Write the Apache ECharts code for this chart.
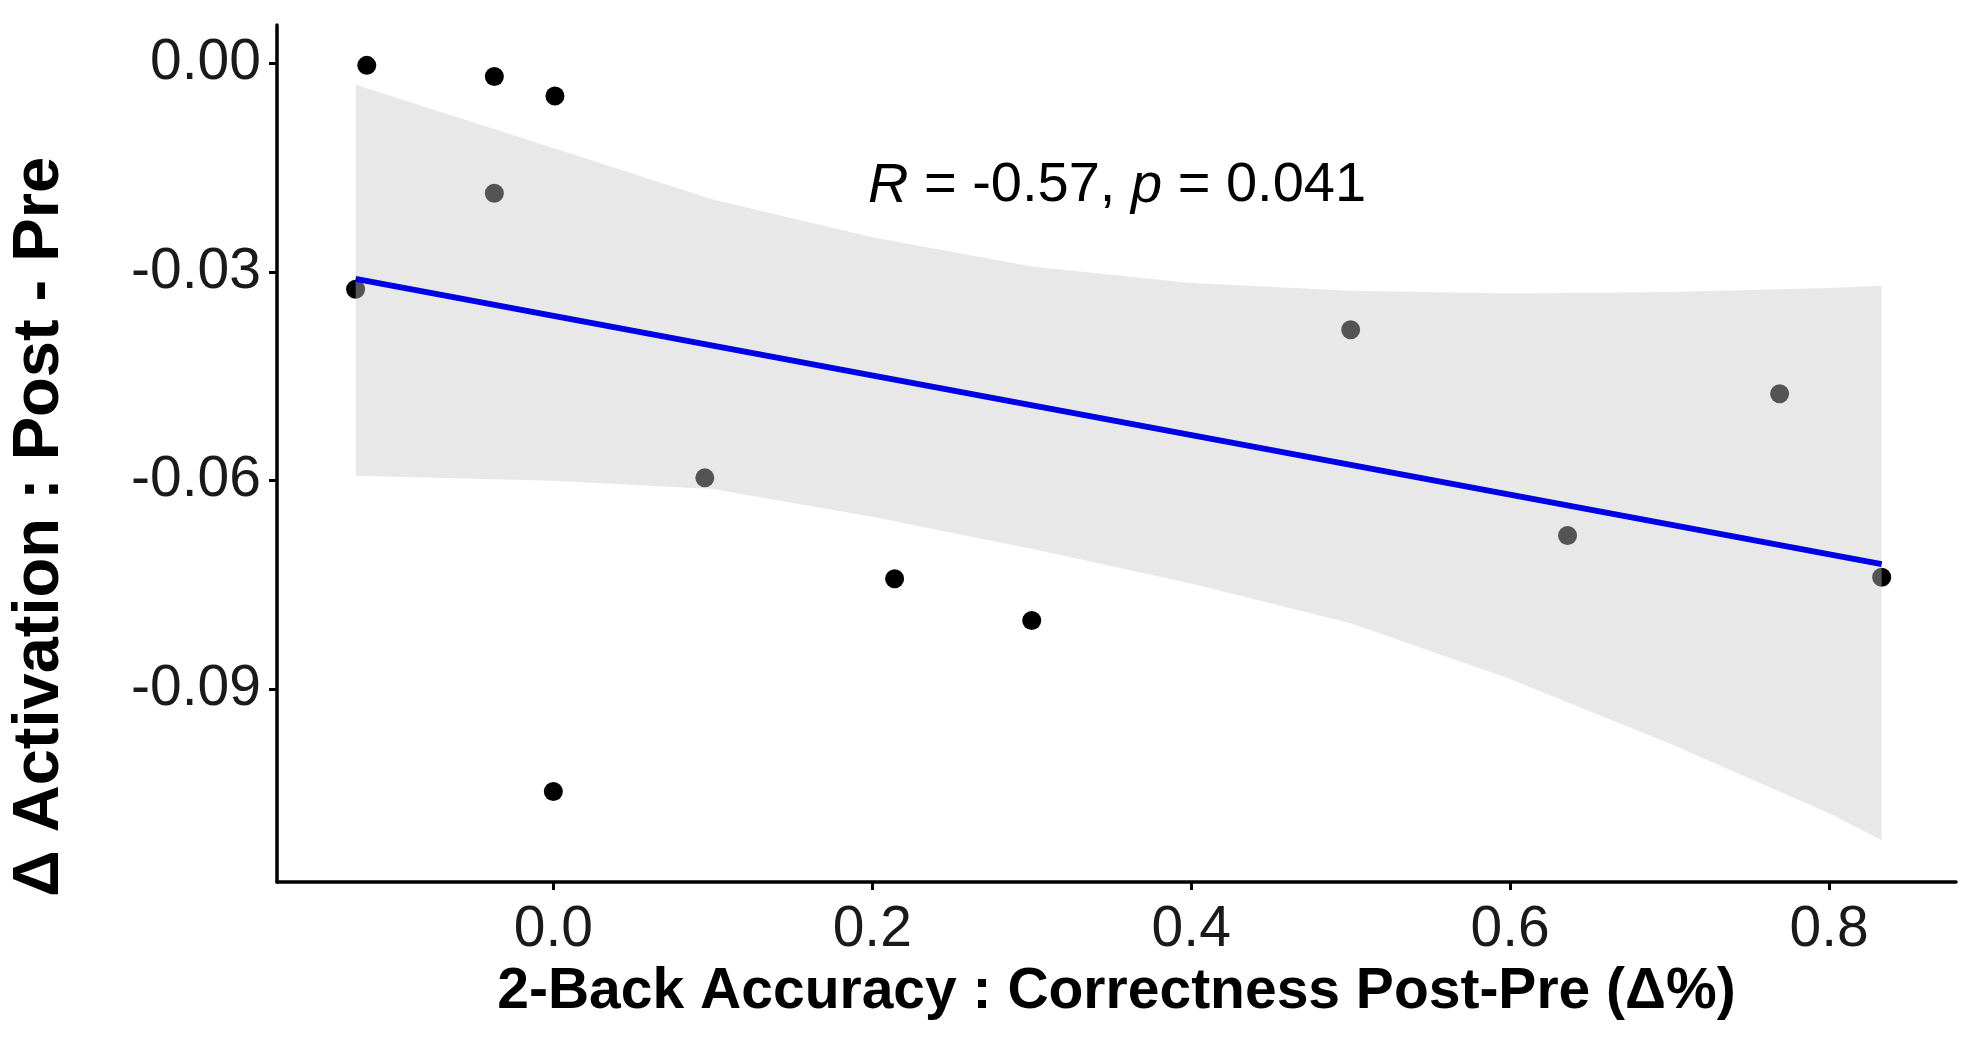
<!DOCTYPE html>
<html>
<head>
<meta charset="utf-8">
<script src="https://cdn.jsdelivr.net/npm/echarts@6/dist/echarts.min.js"></script>
<style>
  html, body { margin: 0; padding: 0; background: #fff; }
  #chart { width: 1983px; height: 1058px; }
</style>
</head>
<body>
<div id="chart"></div>
<script>
// points: x = 2-back accuracy change, y = activation change
var accX = [-0.117, -0.037, 0.001, -0.037, -0.124, 0.095, 0.214, 0.300, 0.000, 0.500, 0.769, 0.636, 0.833];
var actY = [-0.0003, -0.0019, -0.0047, -0.0187, -0.0325, -0.0596, -0.0741, -0.0801, -0.1047, -0.0383, -0.0475, -0.0679, -0.0739];

// regression line end points and 95% band edges, read at these x positions
var fitX = [-0.124, 0.833];
var fitY = [-0.0310, -0.0720];
var bandX = [-0.124, 0.0, 0.1, 0.2, 0.3, 0.4, 0.5, 0.6, 0.7, 0.8, 0.833];
var bandUpper = [-0.0031, -0.0122, -0.0196, -0.0250, -0.0292, -0.0316, -0.0327, -0.0331, -0.0329, -0.0323, -0.0320];
var bandLower = [-0.0593, -0.0600, -0.0612, -0.0652, -0.0698, -0.0748, -0.0805, -0.0885, -0.0978, -0.1078, -0.1117];

var xTicks = [0, 0.2, 0.4, 0.6, 0.8];
var yTicks = [-0.09, -0.06, -0.03, 0];

var chart = echarts.init(document.getElementById('chart'));

var pts = accX.map(function (x, i) { return [x, actY[i]]; });
var bandData = bandX.map(function (x, i) { return [x, bandLower[i], bandUpper[i]]; });
var fitData = fitX.map(function (x, i) { return [x, fitY[i]]; });

var font = "'Liberation Sans', Arial, sans-serif";

// one polygon for the whole band: upper edge left->right, lower edge back
function renderBand(params, api) {
  if (params.dataIndexInside !== 0) return null;
  var n = params.dataInsideLength;
  var upper = [], lower = [];
  for (var i = 0; i < n; i++) {
    upper.push(api.coord([api.value(0, i), api.value(2, i)]));
    lower.unshift(api.coord([api.value(0, i), api.value(1, i)]));
  }
  return {
    type: 'polygon',
    shape: { points: upper.concat(lower) },
    style: { fill: 'rgba(200,200,200,0.42)' }
  };
}

var option = {
  backgroundColor: '#ffffff',
  animation: false,
  grid: { left: 277, right: 27, top: 25, bottom: 176, outerBoundsMode: 'none' },
  xAxis: {
    type: 'value',
    min: -0.1733,
    max: 0.8796,
    name: '2-Back Accuracy : Correctness Post-Pre (\u0394%)',
    nameLocation: 'middle',
    nameGap: 80,
    nameTextStyle: { fontFamily: font, fontSize: 57, fontWeight: 'bold', color: '#000' },
    axisLine: { onZero: false, lineStyle: { color: '#000', width: 3.5 } },
    axisTick: { customValues: xTicks, length: 8, lineStyle: { color: '#000', width: 3 } },
    axisLabel: {
      customValues: xTicks,
      formatter: function (v) { return v.toFixed(1); },
      fontFamily: font, fontSize: 57, lineHeight: 57, color: '#1a1a1a', margin: 20
    },
    splitLine: { show: false }
  },
  yAxis: {
    type: 'value',
    min: -0.1177,
    max: 0.0055,
    axisLine: { onZero: false, lineStyle: { color: '#000', width: 3.5 } },
    axisTick: { customValues: yTicks, length: 8, lineStyle: { color: '#000', width: 3 } },
    axisLabel: {
      customValues: yTicks,
      formatter: function (v) { return Math.abs(v) < 1e-9 ? '0.00' : v.toFixed(2); },
      fontFamily: font, fontSize: 57, color: '#1a1a1a', margin: 16
    },
    splitLine: { show: false }
  },
  graphic: [
    {
      type: 'text',
      x: 40, y: 527,
      rotation: Math.PI / 2,
      style: {
        text: '\u0394 Activation : Post - Pre',
        fontFamily: font, fontSize: 65, fontWeight: 'bold', fill: '#000',
        align: 'center', verticalAlign: 'middle'
      }
    },
    {
      type: 'text',
      x: 1117, y: 186,
      z: 100,
      style: {
        text: '{i|R} = -0.57, {i|p} = 0.041',
        fontFamily: font, fontSize: 56, fill: '#000',
        align: 'center', verticalAlign: 'middle',
        rich: { i: { fontFamily: font, fontSize: 56, fontStyle: 'italic', fill: '#000' } }
      }
    }
  ],
  series: [
    {
      type: 'scatter',
      data: pts,
      symbolSize: 19,
      itemStyle: { color: '#000', opacity: 1 },
      z: 1,
      silent: true
    },
    {
      type: 'custom',
      data: bandData,
      encode: { x: 0, y: [1, 2] },
      renderItem: renderBand,
      z: 2,
      silent: true
    },
    {
      type: 'line',
      data: fitData,
      showSymbol: false,
      lineStyle: { color: '#0000e6', width: 6 },
      z: 3,
      silent: true
    }
  ]
};

chart.setOption(option);
window.addEventListener('resize', chart.resize);
</script>
</body>
</html>
